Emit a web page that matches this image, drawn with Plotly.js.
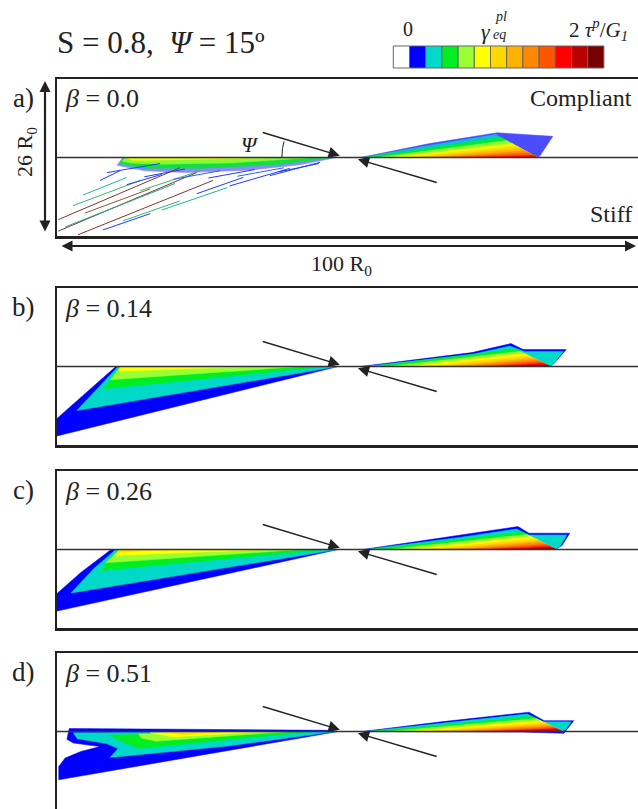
<!DOCTYPE html>
<html><head><meta charset="utf-8">
<script src="https://cdn.plot.ly/plotly-3.0.1.min.js"></script>
<style>html,body{margin:0;padding:0;overflow:hidden;background:#fff}</style>
</head><body><div id="chart" style="width:640px;height:815px"></div>
<script>
const W = 640, H = 815;
const levelColors = ['#ffffff','#0000ff','#00d8c8','#00ee22','#99ff33','#ffff00','#ffd800','#ffb300','#ff8800','#ff5500','#ff0000','#bb0000','#770000'];
const betaLabels = ['0.0','0.14','0.26','0.51'];
const panelLetters = ['a)','b)','c)','d)'];
const panelTopPx = [79, 288, 471, 653];
const panelHeightPx = 157;
const xRange = [0, 100];
const yRange = [-13, 13];

// ---------- left lobes (polygons, R0 units) ----------
const leftA_level = [1, 3, 4, 5];
const leftA_x = [[10.3,11.3,48.1,41.8,33,22,15],[10.6,11.5,47.5,38,25,15],[11.2,11.8,44,30,18,12.5],[12,38,20,13]];
const leftA_y = [[-1.3,0,0,-1.2,-2.1,-2.5,-2.2],[-1.0,0,0,-1.2,-1.8,-1.8],[-0.6,0,0,-0.9,-1.1,-0.9],[0,0,-0.4,-0.5]];

const leftB_level = [1, 2, 3, 4, 5];
const leftB_x = [[0,10.1,48.3,0],[10.5,3.4,48.3],[10.7,8.1,46],[10.9,9.2,42],[11,10.6,34]];
const leftB_y = [[-8.6,0,0,-11.5],[0,-7.3,0],[0,-3.7,0],[0,-2.2,0],[0,-0.8,0]];

const leftC_level = [1, 2, 3, 4, 5, 6];
const leftC_x = [[0,4.1,9.3,48.3,0],[10.1,6.3,2.4,48.3],[10.5,7.4,46],[10.8,8.4,42],[11,9.8,36],[11.3,10.6,20]];
const leftC_y = [[-7.3,-3.8,0,0,-10.2],[0,-3.2,-7.2,0],[0,-3.5,0],[0,-2.2,0],[0,-1.0,0],[0,-0.4,0]];

const leftD_level = [1, 2, 3, 4, 5, 6];
const leftD_x = [[2.1,20,46.9,48.3,0.3,0.3,1.4,4.1,7.4,2.8,1.7],[2.8,48,29.4,9.1,10.5,8.5,3.5],[9,44,14,11.5],[14,40,17,14.5],[16,36,20],[19,30,21.5]];
const leftD_y = [[0.5,0.35,0.2,0,-8,-5.8,-4.4,-3.3,-2.5,-1.9,-1.3],[-0.2,0,-2.4,-4.3,-2.8,-2.0,-1.2],[-0.6,0,-2.8,-1.8],[-0.4,0,-1.6,-1.1],[-0.2,0,-0.9],[-0.1,0,-0.5]];

// ---------- right lobes ----------
const rightOuterA_x = [52.1,64,75.6,85.2,83,82.5];
const rightOuterA_y = [0,2.3,4.1,3.5,0.3,0];
const rightCyanA_x = [52.3,64,75.4,82.5];
const rightCyanA_y = [0,2.0,3.8,0];
const diagA = [75.4, 3.8, 82.5];
const bandStartA = [53,55,57,59.5,62,64.5,67,71];
const bandHeightA = [3.3,2.8,2.3,1.9,1.5,1.1,0.75,0.35];

const rightOuterB_x = [52.1,71.3,78,80.1,87.5,85.4,84.7];
const rightOuterB_y = [0,2.3,3.8,2.8,2.8,0.5,0];
const rightCyanB_x = [52.8,71.3,77.8,80.3,87,85.2,84.7];
const rightCyanB_y = [0,2.0,3.4,2.5,2.5,0.3,0];
const diagB = [77.8, 3.4, 84.7];
const bandStartB = [54,57,60,63,66,68.5,71,74,77,80.5];
const bandHeightB = [2.9,2.5,2.15,1.8,1.45,1.15,0.85,0.55,0.3,0.12];

const rightOuterC_x = [52.5,69.2,79.2,81.1,88.1,86.8,85.7];
const rightOuterC_y = [0,2.3,3.8,2.7,2.7,0.7,0];
const rightCyanC_x = [53,69.2,79,81,87.6,86.4,85.7];
const rightCyanC_y = [0,2.0,3.4,2.4,2.4,0.5,0];
const diagC = [79, 3.4, 85.7];
const bandStartC = [54,57,60,63,66,68.5,71,74,77,80.5];
const bandHeightC = [2.9,2.5,2.15,1.8,1.45,1.15,0.85,0.55,0.3,0.12];

const rightOuterD_x = [52.4,66,81.1,83.7,88.8,87.8,87.1,80];
const rightOuterD_y = [0,1.6,3.2,1.8,1.8,0.5,-0.3,-0.1];
const rightCyanD_x = [53,66,80.8,83.5,88.3,87.5,86.8];
const rightCyanD_y = [0,1.4,2.9,1.6,1.6,0.4,0];
const diagD = [80.8, 2.9, 86.8];
const bandStartD = [54,57,60,63,66,68.5,71,74,77,80.5];
const bandHeightD = [2.5,2.15,1.8,1.5,1.2,0.95,0.7,0.48,0.28,0.12];

// ---------- panel a streaks (shear traces) ----------
const streakX0 = [0.2,0.2,3.6,2.7,4.5,7.4,7.9,11.3,18,24,8.6,14.3,4.8,29.7,36.6,1.4,15,20,26,31,38,12];
const streakY0 = [-10.3,-12.2,-12.8,-8,-6.2,-3.8,-12,-10.5,-8.7,-6,-2.5,-5.5,-9.2,-4.7,-3,-11.5,-3.2,-3.6,-3.4,-3.1,-2.4,-4.5];
const streakX1 = [21.1,24,26.8,14.3,12,10.8,16,21.1,29.2,32,17.7,24.6,16,40,45.2,20.3,22,28,34,39,45,18];
const streakY1 = [-1.7,-2.5,-3.8,-3.8,-3.3,-2.2,-9.3,-7.2,-5,-3.3,-1,-2.2,-5.2,-1.8,-0.8,-4.3,-1.9,-2.2,-2.0,-1.7,-1.0,-2.8];
const streakColor = ['#7a3b2e','#7a3b2e','#7a3b2e','#3cb371','#20b2aa','#1e3cff','#1e3cff','#3cb371','#20b2aa','#1e3cff','#1e3cff','#3cb371','#8a5a3a','#1e3cff','#1e3cff','#2aa88a','#1e3cff','#2a5cff','#1e3cff','#2a5cff','#1e3cff','#1e3cff'];

// ---------- arrows ----------
const arrowUpper = {tailX: 35.1, tailY: 4.2, tipX: 48.6, tipY: 0.3};
const arrowLower = {tailX: 65.5, tailY: -4.2, tipX: 51.7, tipY: -0.3};

const leftLevels = [leftA_level, leftB_level, leftC_level, leftD_level];
const leftXs = [leftA_x, leftB_x, leftC_x, leftD_x];
const leftYs = [leftA_y, leftB_y, leftC_y, leftD_y];
const rightOuterX = [rightOuterA_x, rightOuterB_x, rightOuterC_x, rightOuterD_x];
const rightOuterY = [rightOuterA_y, rightOuterB_y, rightOuterC_y, rightOuterD_y];
const rightCyanX = [rightCyanA_x, rightCyanB_x, rightCyanC_x, rightCyanD_x];
const rightCyanY = [rightCyanA_y, rightCyanB_y, rightCyanC_y, rightCyanD_y];
const diags = [diagA, diagB, diagC, diagD];
const bandStarts = [bandStartA, bandStartB, bandStartC, bandStartD];
const bandHeights = [bandHeightA, bandHeightB, bandHeightC, bandHeightD];

const serif = 'Liberation Serif, Times New Roman, serif';
const traces = [];
const layout = {
  width: W, height: H, margin: {l:0, r:0, t:0, b:0},
  paper_bgcolor: '#fff', plot_bgcolor: '#fff', showlegend: false,
  shapes: [], annotations: []
};

function poly(ax, xs, ys, color, op) {
  traces.push({type:'scatter', mode:'lines', x: xs.concat([xs[0]]), y: ys.concat([ys[0]]),
    fill:'toself', fillcolor: color, line:{color: color, width: 0.5}, opacity: op || 1,
    xaxis: 'x'+ax, yaxis: 'y'+ax, hoverinfo:'skip'});
}

for (let i = 0; i < 4; i++) {
  const ax = i ? String(i+1) : '';
  const top = panelTopPx[i], bot = top + panelHeightPx;
  layout['xaxis'+ax] = {domain:[57/W, 639/W], range: xRange, anchor:'y'+ax, showgrid:false, zeroline:false,
    showticklabels:false, ticks:'', showline:true, mirror:true, linecolor:'#222', linewidth:2.5, fixedrange:true};
  layout['yaxis'+ax] = {domain:[(H-bot)/H, (H-top)/H], range: yRange, anchor:'x'+ax, showgrid:false, zeroline:false,
    showticklabels:false, ticks:'', showline:true, mirror:true, linecolor:'#222', linewidth:2.5, fixedrange:true};

  // left lobe
  leftLevels[i].forEach((lv, k) => {
    let op = 1;
    if (i === 0) op = (lv === 1) ? 0.45 : 0.85;
    poly(ax, leftXs[i][k], leftYs[i][k], levelColors[lv], op);
  });
  // right lobe
  poly(ax, rightOuterX[i], rightOuterY[i], levelColors[1], i === 0 ? 0.7 : 1);
  poly(ax, rightCyanX[i], rightCyanY[i], levelColors[2], i === 0 ? 0.85 : 1);
  const d = diags[i];
  bandStarts[i].forEach((s, k) => {
    const h = bandHeights[i][k];
    const xd = d[2] - (d[2]-d[0]) * h / d[1];
    poly(ax, [s, xd, d[2]], [0, h, 0], levelColors[3+k], i === 0 ? 0.9 : 1);
  });

  // interface line
  layout.shapes.push({type:'line', xref:'x'+ax, yref:'y'+ax, x0:xRange[0], x1:xRange[1], y0:0, y1:0,
    line:{color:'#333', width:1.4}, layer:'above'});

  // loading arrows
  [arrowUpper, arrowLower].forEach(a => layout.annotations.push({
    xref:'x'+ax, yref:'y'+ax, axref:'x'+ax, ayref:'y'+ax, x:a.tipX, y:a.tipY, ax:a.tailX, ay:a.tailY,
    showarrow:true, arrowhead:2, arrowsize:1.5, arrowwidth:1.5, arrowcolor:'#222', text:''}));

  // labels
  layout.annotations.push({xref:'paper', yref:'paper', x:23/W, y:(H-(top+19))/H, xanchor:'center', yanchor:'middle',
    text: panelLetters[i], showarrow:false, font:{family:serif, size:27, color:'#222'}});
  layout.annotations.push({xref:'paper', yref:'paper', x:63/W, y:(H-(top+20))/H, xanchor:'left', yanchor:'middle',
    text: '<i>β</i> = ' + betaLabels[i], showarrow:false, font:{family:serif, size:26, color:'#222'}});
}

// panel a streaks
for (let k = 0; k < streakX0.length; k++) {
  traces.push({type:'scatter', mode:'lines', x:[streakX0[k], streakX1[k]], y:[streakY0[k], streakY1[k]],
    line:{color: streakColor[k], width:1}, xaxis:'x', yaxis:'y', hoverinfo:'skip'});
}

// psi arc (decoration)
const arcX = [], arcY = [];
for (let t = 0; t <= 16; t += 1) {
  const r = t * Math.PI / 180;
  arcX.push(arrowUpper.tipX - 9.97 * Math.cos(r));
  arcY.push(9.67 * Math.sin(r));
}
traces.push({type:'scatter', mode:'lines', x:arcX, y:arcY, line:{color:'#222', width:1}, xaxis:'x', yaxis:'y', hoverinfo:'skip'});

const ann = layout.annotations;
const P = (px, py) => ({xref:'paper', yref:'paper', x: px/W, y: (H-py)/H});
ann.push(Object.assign(P(33.2*5.82+57, 145), {text:'<i>Ψ</i>', showarrow:false, xanchor:'center', yanchor:'middle', font:{family:serif, size:22, color:'#222'}}));
ann.push(Object.assign(P(634, 98), {text:'Compliant', showarrow:false, xanchor:'right', yanchor:'middle', font:{family:serif, size:24, color:'#222'}}));
ann.push(Object.assign(P(634, 214), {text:'Stiff', showarrow:false, xanchor:'right', yanchor:'middle', font:{family:serif, size:24, color:'#222'}}));

// title
ann.push(Object.assign(P(55, 42), {text:'S = 0.8,\u00A0\u00A0<i>Ψ</i> = 15º', showarrow:false, xanchor:'left', yanchor:'middle', font:{family:serif, size:31, color:'#222'}}));

// dimension arrows
ann.push(Object.assign(P(45, 81), {ax:0, ay:152, text:'', showarrow:true, arrowhead:2, startarrowhead:2, arrowside:'end+start', arrowsize:1, startarrowsize:1, arrowwidth:2.2, arrowcolor:'#222'}));
ann.push(Object.assign(P(636, 246), {ax:-576, ay:0, text:'', showarrow:true, arrowhead:2, startarrowhead:2, arrowside:'end+start', arrowsize:1, startarrowsize:1, arrowwidth:2.2, arrowcolor:'#222'}));
ann.push(Object.assign(P(26, 152), {text:'26 R<sub>0</sub>', textangle:-90, showarrow:false, xanchor:'center', yanchor:'middle', font:{family:serif, size:22, color:'#222'}}));
ann.push(Object.assign(P(341, 265), {text:'100 R<sub>0</sub>', showarrow:false, xanchor:'center', yanchor:'middle', font:{family:serif, size:22, color:'#222'}}));

// colour key
const cbLeft = 393.3, cbCell = 16.2, cbTop = 46, cbBot = 68;
levelColors.forEach((c, k) => layout.shapes.push({type:'rect', xref:'paper', yref:'paper',
  x0:(cbLeft + k*cbCell)/W, x1:(cbLeft + (k+1)*cbCell)/W, y0:(H-cbBot)/H, y1:(H-cbTop)/H,
  fillcolor:c, line:{color:'#666', width:1}}));
ann.push(Object.assign(P(408, 29), {text:'0', showarrow:false, xanchor:'center', yanchor:'middle', font:{family:serif, size:20, color:'#222'}}));
ann.push(Object.assign(P(486, 31), {text:'<i>γ</i>', showarrow:false, xanchor:'center', yanchor:'middle', font:{family:serif, size:22, color:'#222'}}));
ann.push(Object.assign(P(501, 17), {text:'<i>pl</i>', showarrow:false, xanchor:'center', yanchor:'middle', font:{family:serif, size:14, color:'#222'}}));
ann.push(Object.assign(P(499, 35), {text:'<i>eq</i>', showarrow:false, xanchor:'center', yanchor:'middle', font:{family:serif, size:14, color:'#222'}}));
ann.push(Object.assign(P(598, 29), {text:'2 <i>τ</i><sup><i>p</i></sup>/<i>G</i><sub><i>1</i></sub>', showarrow:false, xanchor:'center', yanchor:'middle', font:{family:serif, size:21, color:'#222'}}));

Plotly.newPlot('chart', traces, layout, {staticPlot:true, displayModeBar:false});
</script></body></html>
